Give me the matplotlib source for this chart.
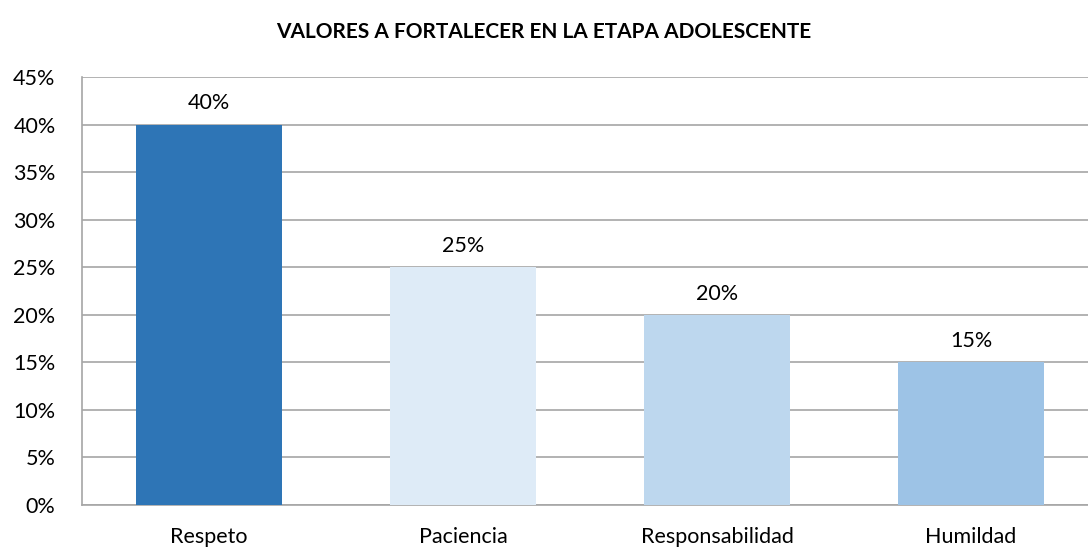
import matplotlib
matplotlib.use("Agg")
import matplotlib.pyplot as plt
from matplotlib.ticker import PercentFormatter

categories = ["Respeto", "Paciencia", "Responsabilidad", "Humildad"]
values = [40, 25, 20, 15]
colors = ["#2E75B6", "#DEEBF7", "#BDD7EE", "#9DC3E6"]
title = "VALORES A FORTALECER EN LA ETAPA ADOLESCENTE"

plt.rcParams['font.family'] = ['Lato', 'DejaVu Sans']

fig = plt.figure(figsize=(10.88, 5.52), dpi=100)
ax = fig.add_axes([82/1088, 47/552, 1016/1088, 428/552])

x = range(len(categories))
bars = ax.bar(x, values, width=0.575, color=colors, zorder=3)
for b, v in zip(bars, values):
    ax.annotate(f"{v}%", (b.get_x() + b.get_width()/2, v), xytext=(0, 8),
                textcoords="offset points", ha="center", va="bottom", fontsize=15.5)

ax.set_xlim(-0.5, len(categories) - 0.5)
ax.set_ylim(0, 45)
ax.set_yticks(range(0, 50, 5))
ax.yaxis.set_major_formatter(PercentFormatter(decimals=0))
ax.set_xticks(list(x))
ax.set_xticklabels(categories)
ax.tick_params(axis='x', length=0, pad=16, labelsize=15.5)
ax.tick_params(axis='y', length=0, pad=19, labelsize=15.5)
ax.grid(axis='y', color='#A6A6A6', linewidth=1.2, zorder=0)
for s in ['top', 'right']:
    ax.spines[s].set_visible(False)
for s in ['left', 'bottom']:
    ax.spines[s].set_color('#A6A6A6')
    ax.spines[s].set_linewidth(1.2)

fig.text(544/1088, 1 - 32/552, title, ha='center', va='center', fontsize=15, fontweight='bold')

fig.savefig("out.png", dpi=100)
